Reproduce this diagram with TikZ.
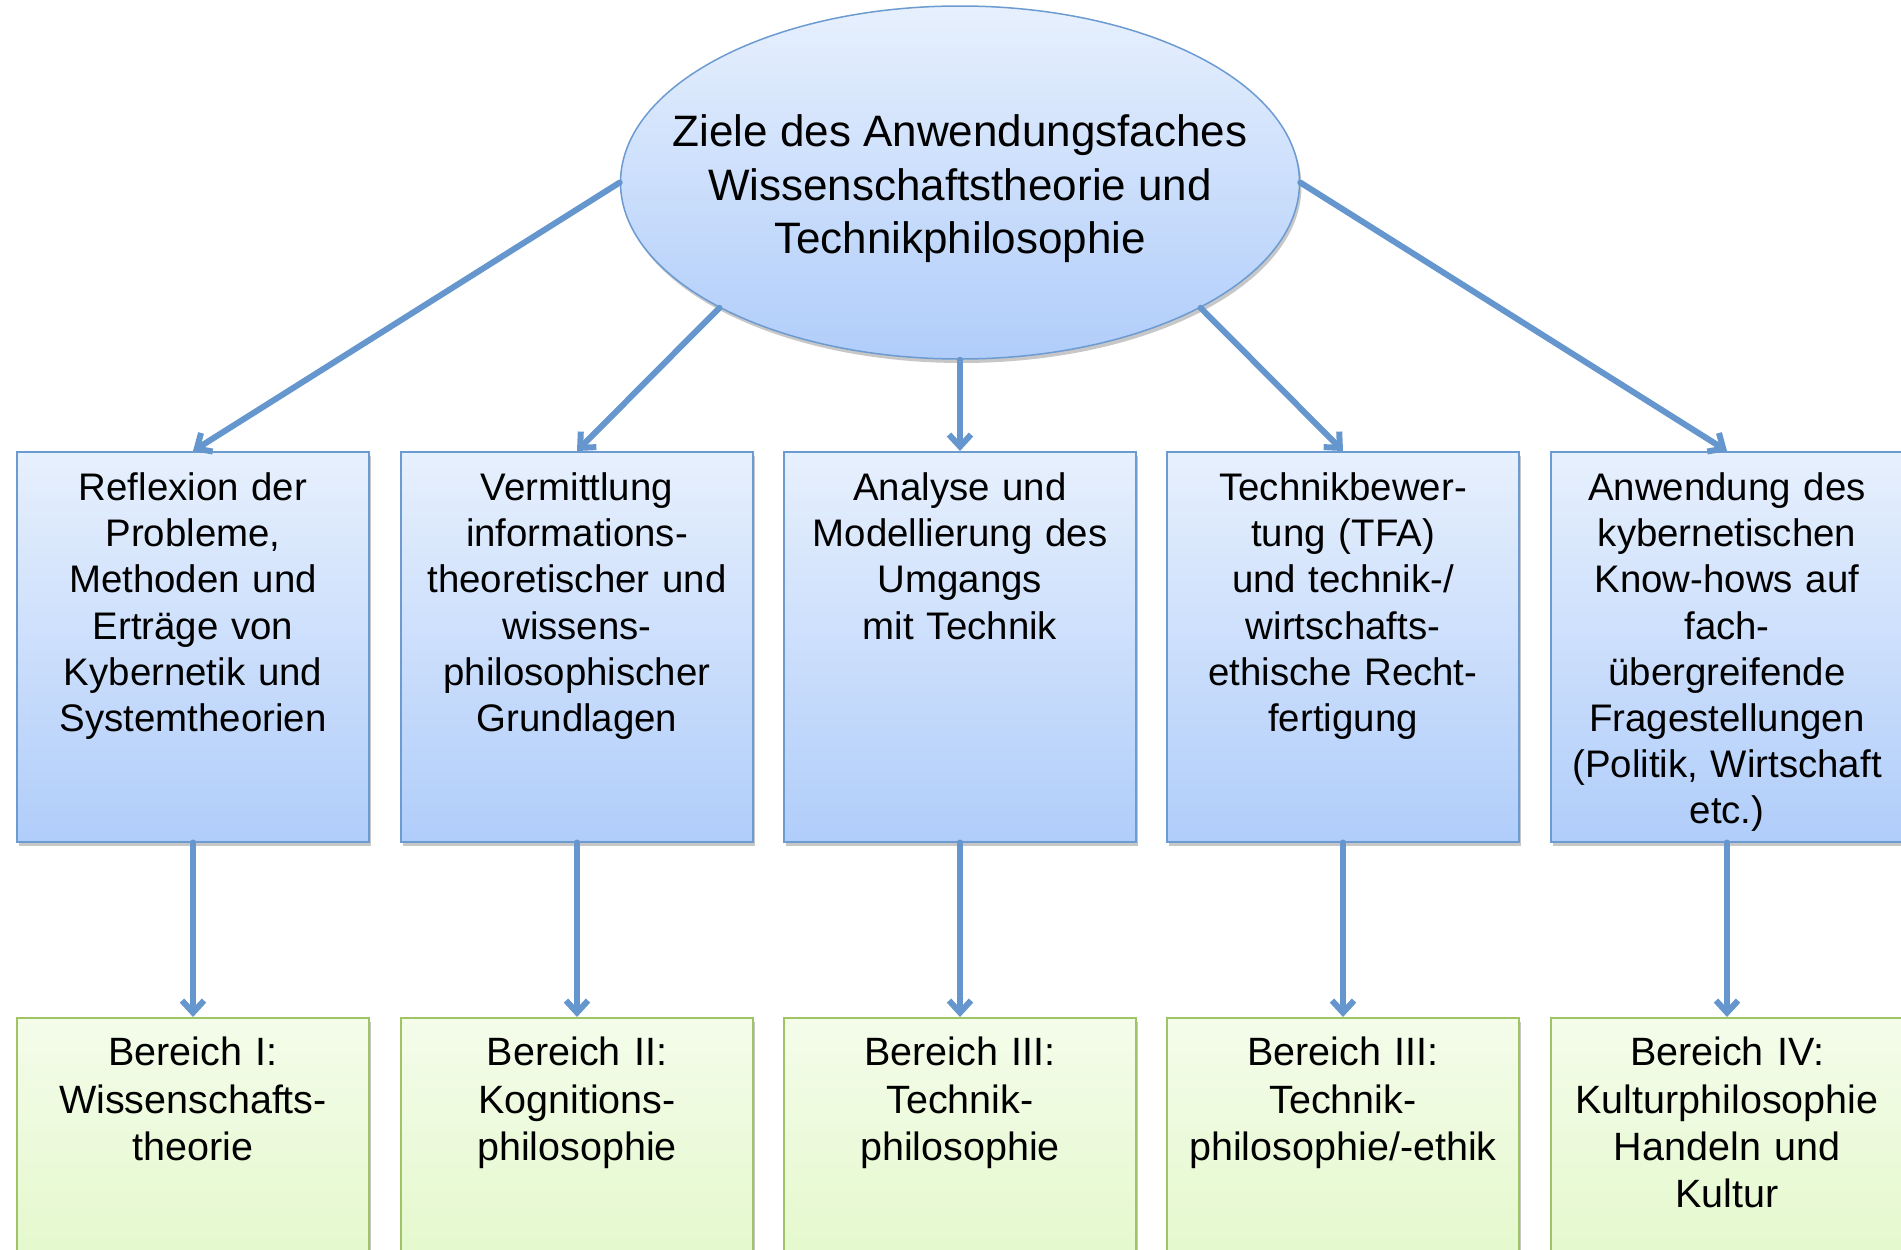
\documentclass[tikz,border=0pt]{standalone}
\usepackage{fontspec}
\setmainfont{Liberation Sans}
\usetikzlibrary{shapes.geometric,arrows.meta,shadows}

\definecolor{pfeilblau}{RGB}{101,150,205}
\definecolor{randblau}{RGB}{108,155,210}
\definecolor{hellblau}{RGB}{231,240,253}
\definecolor{mittelblau}{RGB}{176,205,250}
\definecolor{randgruen}{RGB}{160,196,100}
\definecolor{hellgruen}{RGB}{244,252,234}
\definecolor{mittelgruen}{RGB}{221,247,192}

\tikzset{
    schatten/.style={drop shadow={shadow xshift=2pt,shadow yshift=-4pt,opacity=0.22,fill=black}},
    ziel/.style={ellipse, draw=randblau, line width=1.5pt, top color=hellblau, bottom color=mittelblau,
        minimum width=679pt, minimum height=353pt, inner sep=0pt, schatten},
    zieltext/.style={align=center, font=\fontsize{44}{53.5}\selectfont},
    aufgabe/.style={rectangle, draw=randblau, line width=1.5pt, top color=hellblau, bottom color=mittelblau,
        anchor=north, text width=340pt, inner xsep=6pt, inner ysep=0pt, align=center,
        text height=49pt, text depth=341pt, font=\fontsize{38.4}{46.1}\selectfont, schatten},
    bereich/.style={rectangle, draw=randgruen, line width=1.5pt, top color=hellgruen, bottom color=mittelgruen,
        anchor=north, text width=340pt, inner xsep=6pt, inner ysep=0pt, align=center,
        text height=48pt, text depth=300pt, font=\fontsize{39.5}{47.3}\selectfont, schatten},
    pfeil/.style={draw=pfeilblau, line width=6pt, line cap=round,
        -{Straight Barb[length=12pt,width=22pt]}}
}

\begin{document}
\begin{tikzpicture}[x=1pt,y=-1pt]
    \useasboundingbox (0,0) rectangle (1901,1250);

    % Ziel oben
    \node[ziel] (ziel) at (960,182.5) {};
    \node[zieltext] (zieltxt) at (960,189) {Ziele des Anwendungsfaches\\Wissenschaftstheorie und\\Technikphilosophie};

    % Aufgaben (mittlere Reihe)
    \node[aufgabe] (a1) at (193,451) {Reflexion der\\Probleme,\\Methoden und\\Erträge von\\Kybernetik und\\Systemtheorien};
    \node[aufgabe] (a2) at (577,451) {Vermittlung\\informations-\\theoretischer und\\wissens-\\philosophischer\\Grundlagen};
    \node[aufgabe] (a3) at (960,451) {Analyse und\\Modellierung des\\Umgangs\\mit Technik};
    \node[aufgabe] (a4) at (1343,451) {Technikbewer-\\tung (TFA)\\und technik-/\\wirtschafts-\\ethische Recht-\\fertigung};
    \node[aufgabe] (a5) at (1727,451) {Anwendung des\\kybernetischen\\Know-hows auf\\fach-\\übergreifende\\Fragestellungen\\(Politik, Wirtschaft\\etc.)};

    % Bereiche (untere Reihe)
    \node[bereich] (b1) at (193,1017) {Bereich I:\\Wissenschafts-\\theorie};
    \node[bereich] (b2) at (577,1017) {Bereich II:\\Kognitions-\\philosophie};
    \node[bereich] (b3) at (960,1017) {Bereich III:\\Technik-\\philosophie};
    \node[bereich] (b4) at (1343,1017) {Bereich III:\\Technik-\\philosophie/-ethik};
    \node[bereich] (b5) at (1727,1017) {Bereich IV:\\Kulturphilosophie\\Handeln und\\Kultur};

    % Pfeile
    \draw[pfeil] (ziel.west) -- (a1.north);
    \draw[pfeil] (ziel.south west) -- (a2.north);
    \draw[pfeil] (ziel.south) -- (a3.north);
    \draw[pfeil] (ziel.south east) -- (a4.north);
    \draw[pfeil] (ziel.east) -- (a5.north);
    \draw[pfeil] (a1.south) -- (b1.north);
    \draw[pfeil] (a2.south) -- (b2.north);
    \draw[pfeil] (a3.south) -- (b3.north);
    \draw[pfeil] (a4.south) -- (b4.north);
    \draw[pfeil] (a5.south) -- (b5.north);
\end{tikzpicture}
\end{document}
